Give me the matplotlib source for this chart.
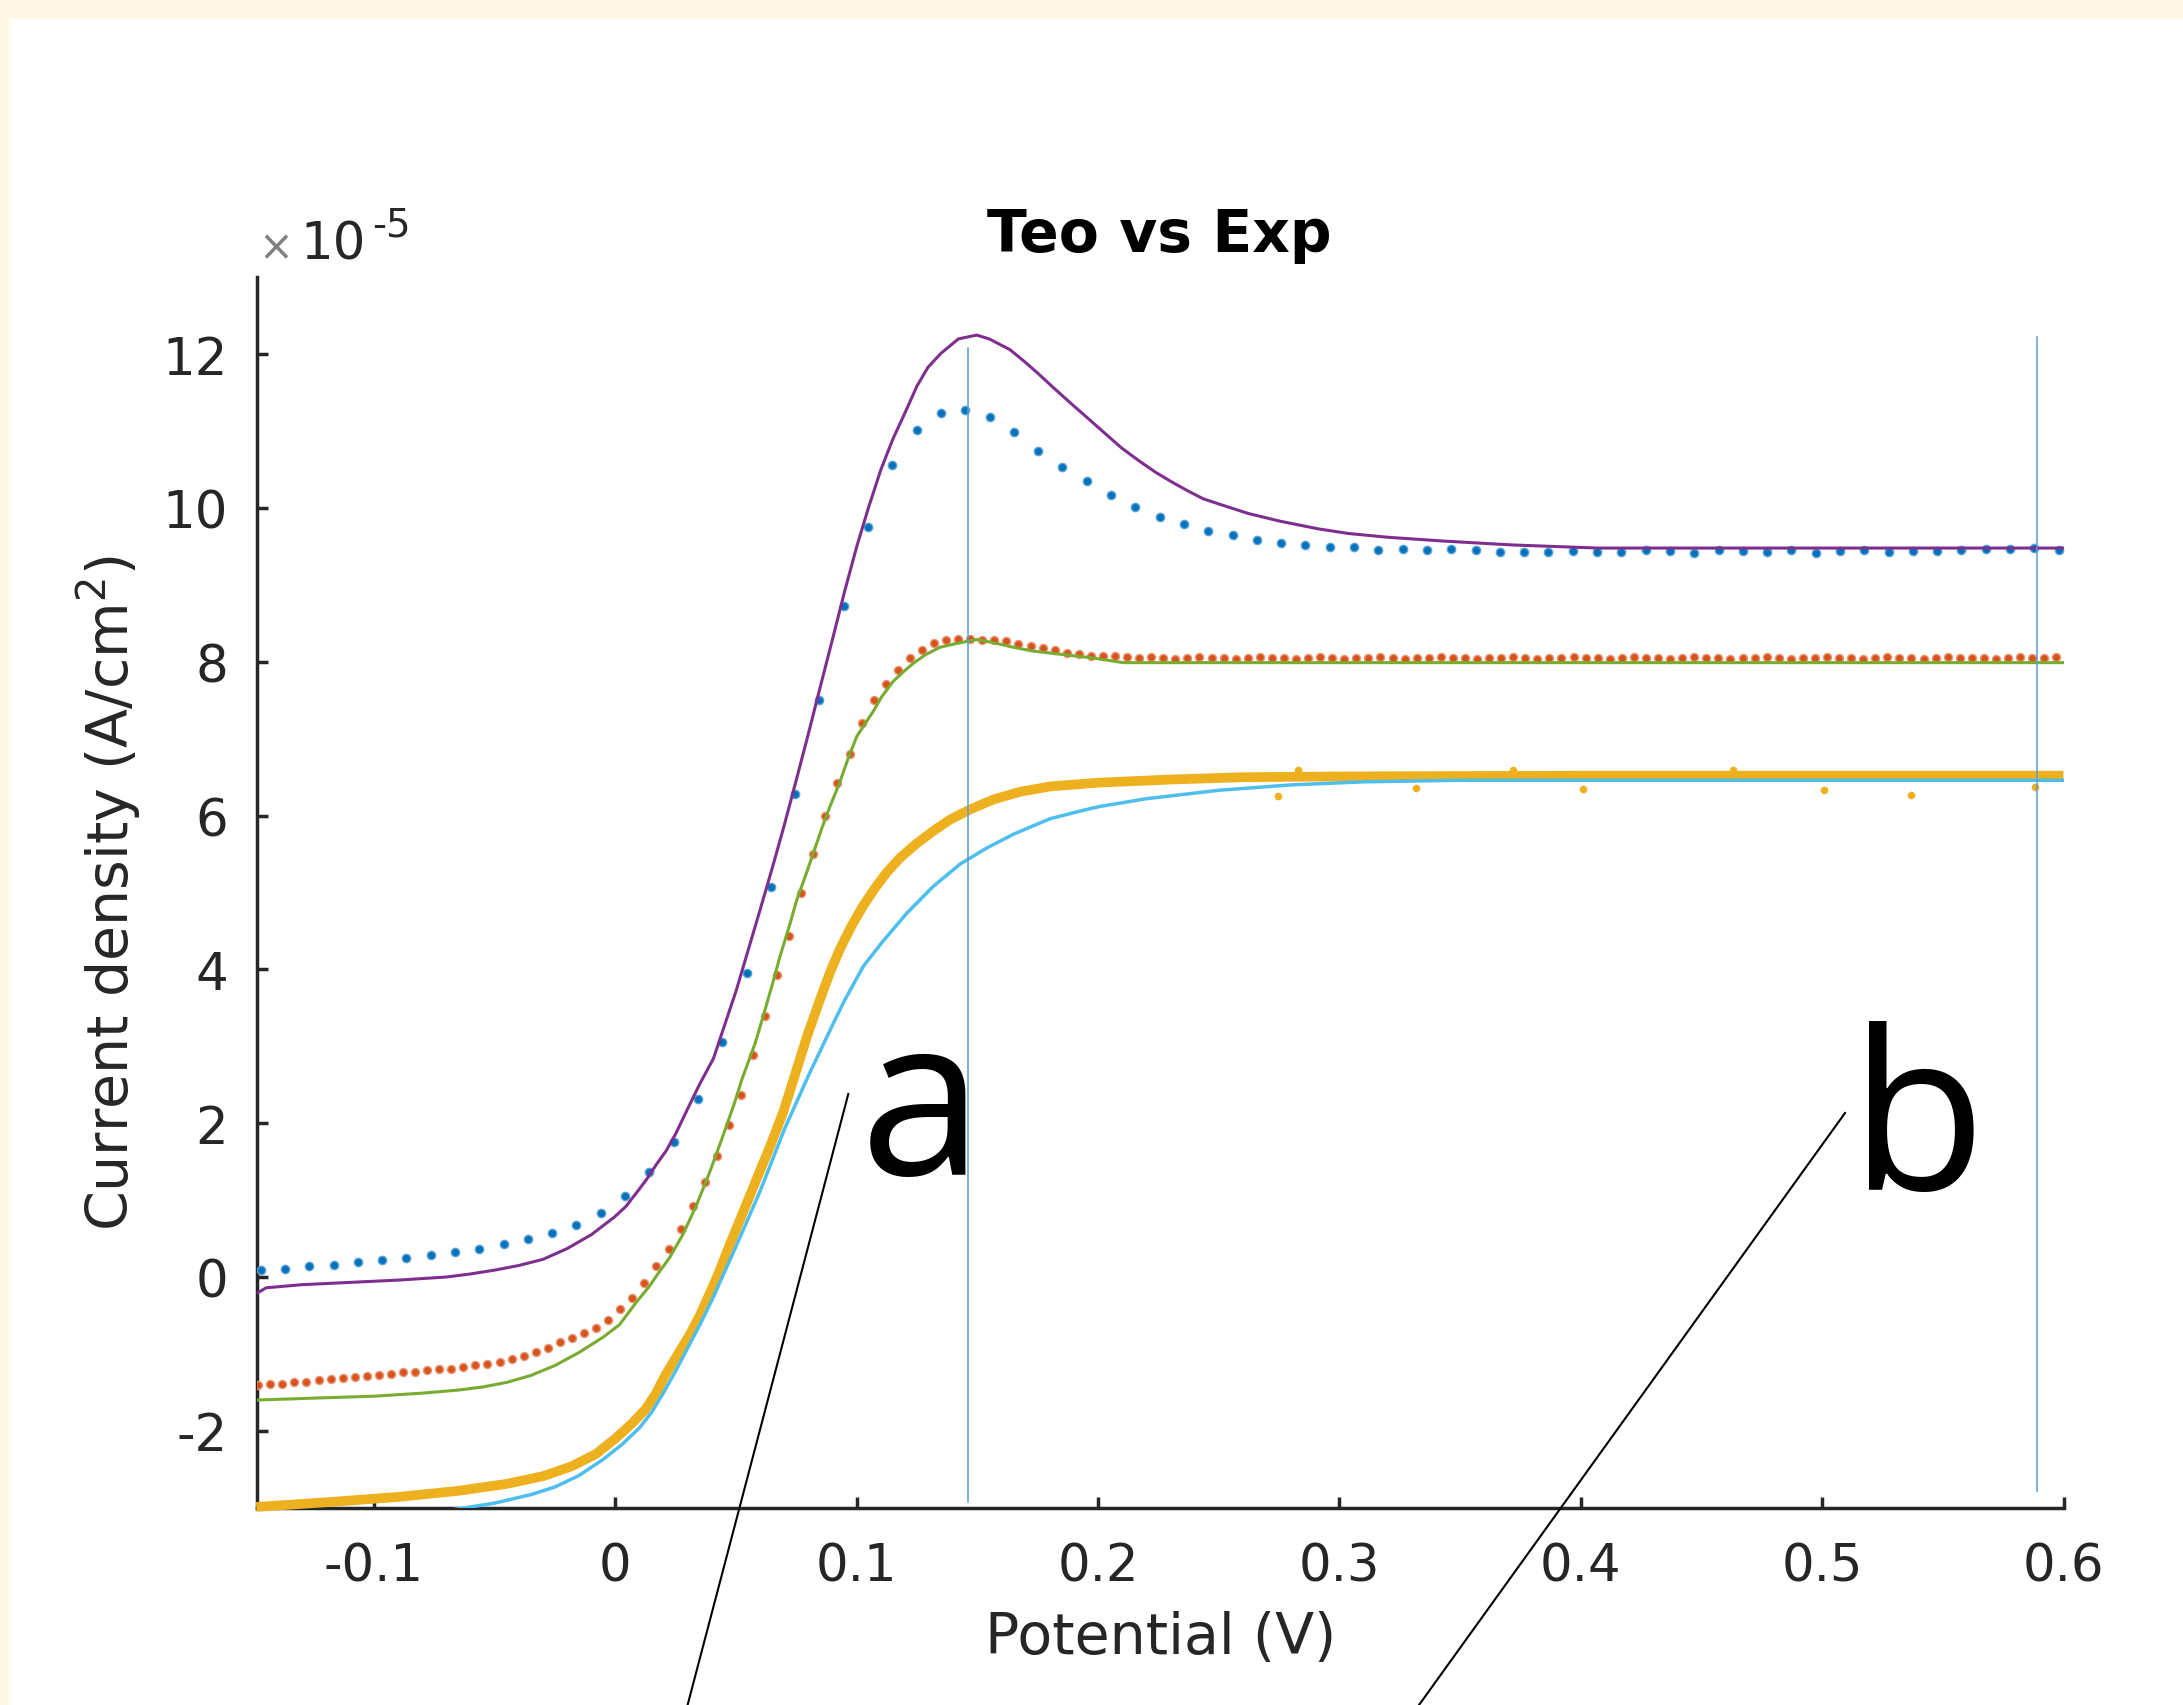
import numpy as np
import matplotlib
matplotlib.use('Agg')
import matplotlib.pyplot as plt
from matplotlib.lines import Line2D
from matplotlib.patches import Rectangle

# ---------------- data (current density in units of 1e-5 A/cm^2) ----------------
blue_x = np.linspace(-0.147, 0.598, 75)
blue_y = [0.09, 0.10, 0.14, 0.15, 0.19, 0.22, 0.25, 0.28, 0.32, 0.37,
          0.43, 0.49, 0.57, 0.68, 0.83, 1.05, 1.36, 1.76, 2.32, 3.06,
          3.96, 5.07, 6.28, 7.51, 8.73, 9.76, 10.56, 11.02, 11.24, 11.27,
          11.18, 10.99, 10.74, 10.54, 10.35, 10.17, 10.02, 9.88, 9.79, 9.70,
          9.65, 9.59, 9.55, 9.52, 9.50, 9.50, 9.45, 9.47, 9.45, 9.47,
          9.45, 9.43, 9.43, 9.43, 9.44, 9.43, 9.43, 9.45, 9.44, 9.42,
          9.45, 9.44, 9.43, 9.45, 9.42, 9.44, 9.45, 9.43, 9.44, 9.44,
          9.45, 9.47, 9.47, 9.48, 9.45]

purple_x = [-0.1485, -0.1447, -0.130, -0.110, -0.090, -0.070, -0.060, -0.050, -0.040, -0.030,
            -0.020, -0.010, -0.0004, 0.0044, 0.0086, 0.0127, 0.0169, 0.0210,
            0.0251, 0.0295, 0.0351, 0.0406, 0.0454, 0.0500, 0.0550, 0.0600, 0.0650,
            0.0700, 0.0750, 0.0800, 0.0850, 0.0900, 0.0950, 0.1000, 0.1050,
            0.1100, 0.1150, 0.1200, 0.1250, 0.1295, 0.1348, 0.1421, 0.1497, 0.1549, 0.1635,
            0.1697, 0.1748, 0.1817, 0.1888, 0.1957, 0.2029, 0.2098, 0.2167, 0.2236, 0.2305,
            0.2374, 0.2436, 0.2533, 0.2622, 0.2753, 0.2912, 0.3036, 0.3202, 0.3437, 0.3720,
            0.4072, 0.50, 0.60]
purple_y = [-0.21, -0.14, -0.10, -0.07, -0.04, 0.00, 0.04, 0.09, 0.15, 0.23,
            0.37, 0.55, 0.78, 0.92, 1.09, 1.26, 1.46, 1.64,
            1.87, 2.16, 2.52, 2.84, 3.29, 3.72, 4.25, 4.78, 5.32,
            5.88, 6.47, 7.07, 7.69, 8.30, 8.92, 9.50, 10.02,
            10.50, 10.90, 11.24, 11.59, 11.83, 12.01, 12.20, 12.25, 12.20, 12.06,
            11.90, 11.76, 11.56, 11.36, 11.17, 10.97, 10.78, 10.62, 10.47, 10.34,
            10.22, 10.12, 10.02, 9.93, 9.83, 9.73, 9.67, 9.62, 9.57, 9.52,
            9.48, 9.48, 9.48]

orange_x = np.linspace(-0.148, 0.597, 150)
orange_y = [-1.40, -1.39, -1.385, -1.37, -1.36, -1.34, -1.325, -1.31, -1.30, -1.285,
            -1.27, -1.255, -1.24, -1.23, -1.215, -1.20, -1.19, -1.17, -1.15, -1.13,
            -1.11, -1.07, -1.03, -0.98, -0.92, -0.85, -0.79, -0.73, -0.66, -0.56,
            -0.42, -0.27, -0.08, 0.14, 0.37, 0.63, 0.93, 1.24, 1.57, 1.98,
            2.37, 2.89, 3.40, 3.93, 4.43, 5.00, 5.50, 6.00, 6.42, 6.80,
            7.20, 7.50, 7.71, 7.90, 8.05, 8.16, 8.24, 8.28, 8.30, 8.30,
            8.29, 8.29, 8.27, 8.23, 8.20, 8.18, 8.15, 8.11, 8.10, 8.08,
            8.07, 8.07, 8.06,
            8.05, 8.06, 8.05, 8.04, 8.05, 8.06, 8.05, 8.05, 8.04, 8.05,
            8.06, 8.05, 8.05, 8.04, 8.05, 8.06, 8.05, 8.04, 8.05, 8.05,
            8.06, 8.05, 8.04, 8.05, 8.05, 8.06, 8.05, 8.05, 8.04, 8.05,
            8.05, 8.06, 8.05, 8.04, 8.05, 8.05, 8.06, 8.05, 8.05, 8.04,
            8.05, 8.06, 8.05, 8.05, 8.04, 8.05, 8.06, 8.05, 8.05, 8.04,
            8.05, 8.05, 8.06, 8.05, 8.04, 8.05, 8.05, 8.06, 8.05, 8.05,
            8.04, 8.05, 8.06, 8.05, 8.05, 8.04, 8.05, 8.06, 8.05, 8.05,
            8.05, 8.04, 8.05, 8.06, 8.05, 8.05, 8.06]

green_x = [-0.1488, -0.120, -0.100, -0.080, -0.065, -0.055, -0.045, -0.035, -0.025, -0.015,
           -0.005, 0.0017, 0.0086, 0.0141, 0.0169, 0.0224, 0.0279,
           0.0334, 0.0389, 0.0445, 0.0493, 0.0524, 0.0579, 0.0613, 0.0648, 0.0682, 0.0724,
           0.0751, 0.0790, 0.0823, 0.0858, 0.0889, 0.0928, 0.0965, 0.1000, 0.1069, 0.1104,
           0.1152, 0.1193, 0.1234, 0.1283, 0.1345, 0.1414, 0.1497, 0.1566, 0.1649, 0.1732,
           0.1842, 0.1980, 0.2104, 0.40, 0.60]
green_y = [-1.60, -1.57, -1.55, -1.51, -1.47, -1.43, -1.37, -1.28, -1.15, -0.98,
           -0.78, -0.62, -0.33, -0.12, 0.01, 0.25, 0.55,
           0.92, 1.35, 1.83, 2.26, 2.57, 3.04, 3.40, 3.78, 4.17, 4.60,
           4.90, 5.24, 5.54, 5.86, 6.12, 6.42, 6.75, 7.03, 7.36, 7.55,
           7.75, 7.87, 7.98, 8.09, 8.19, 8.24, 8.29, 8.25, 8.19, 8.14,
           8.10, 8.05, 7.99, 7.99, 7.99]

yellow_x = [-0.1488, -0.120, -0.090, -0.065, -0.045, -0.030, -0.018, -0.008, 0.000, 0.007,
            0.0125, 0.0165, 0.0210, 0.0260, 0.0310, 0.0350, 0.0390, 0.0425, 0.0475, 0.0530,
            0.0586, 0.0641, 0.0696, 0.0737, 0.0793, 0.0841, 0.0889, 0.0931, 0.0979, 0.1027,
            0.1076, 0.1124, 0.1179, 0.1249, 0.1317, 0.1387, 0.1469, 0.1566, 0.1676, 0.1801,
            0.2008, 0.2300, 0.2600, 0.3000, 0.4000, 0.5000, 0.6000]
yellow_y = [-2.99, -2.93, -2.86, -2.78, -2.69, -2.59, -2.46, -2.30, -2.10, -1.90,
            -1.72, -1.53, -1.26, -1.00, -0.74, -0.50, -0.22, 0.03, 0.43, 0.85,
            1.28, 1.70, 2.15, 2.56, 3.12, 3.55, 3.96, 4.27, 4.57, 4.83,
            5.06, 5.26, 5.45, 5.64, 5.80, 5.95, 6.08, 6.21, 6.31, 6.38,
            6.43, 6.47, 6.50, 6.51, 6.52, 6.52, 6.52]
yellow_out_x = [0.2745, 0.2830, 0.3316, 0.3720, 0.4008, 0.4630, 0.5006, 0.5369, 0.5883]
yellow_out_y = [6.26, 6.59, 6.36, 6.59, 6.35, 6.59, 6.34, 6.27, 6.37]

cyan_x = [-0.1488, -0.120, -0.090, -0.070, -0.050, -0.035, -0.025, -0.015, -0.005, 0.003,
          0.010, 0.015, 0.020, 0.025, 0.030, 0.035, 0.040, 0.045, 0.050, 0.055,
          0.060, 0.065, 0.070, 0.075, 0.080, 0.085, 0.090, 0.095, 0.1027, 0.1104,
          0.1207, 0.1317, 0.1428, 0.1539, 0.1650, 0.1801, 0.1939, 0.2008, 0.2200, 0.2500,
          0.2800, 0.3100, 0.3500, 0.6000]
cyan_y = [-3.40, -3.30, -3.16, -3.04, -2.94, -2.83, -2.73, -2.58, -2.37, -2.17,
          -1.96, -1.76, -1.50, -1.22, -0.92, -0.62, -0.30, 0.05, 0.40, 0.76,
          1.12, 1.52, 1.92, 2.27, 2.62, 2.95, 3.28, 3.60, 4.04, 4.35,
          4.73, 5.08, 5.37, 5.58, 5.76, 5.96, 6.07, 6.12, 6.22, 6.33,
          6.40, 6.44, 6.46, 6.46]

vline_x = [0.146, 0.589]
vline_y0 = [-2.92, -2.78]
vline_y1 = [12.08, 12.22]

x_ticks = [-0.1, 0, 0.1, 0.2, 0.3, 0.4, 0.5, 0.6]
x_labels = ['-0.1', '0', '0.1', '0.2', '0.3', '0.4', '0.5', '0.6']
y_ticks = [-2, 0, 2, 4, 6, 8, 10, 12]
y_labels = ['-2', '0', '2', '4', '6', '8', '10', '12']

# ---------------- figure ----------------
W, H = 2183, 1706
fig = plt.figure(figsize=(W / 100, H / 100), dpi=100)
fig.patch.set_facecolor('#FFF8E6')
fig.add_artist(Rectangle((10 / W, 0), 1 - 10 / W, 1 - 20 / H, transform=fig.transFigure,
                         facecolor='white', edgecolor='none', zorder=-10))


def fx(px):
    return px / W


def fy(py):
    return 1 - py / H


ax_b, ax_t = 1508.7, 278.4
ax_l, ax_r = 257.0, 2063.5
ax = fig.add_axes([fx(ax_l), fy(ax_b), (ax_r - ax_l) / W, (ax_b - ax_t) / H])
ax.set_facecolor('white')
ax.set_xlim(-0.1485, 0.6)
ax.set_ylim(-3, 13)

dark = '#262626'
ax.plot(blue_x, blue_y, 'o', color='#0072BD', ms=6.0, mec='#5DA2D5', mew=1.0, zorder=3)
ax.plot(orange_x, orange_y, 'o', color='#D95319', ms=5.8, mec='#E8967A', mew=1.0, zorder=3)
ax.plot(yellow_x, yellow_y, '-', color='#EDB120', lw=7.0, solid_capstyle='butt',
        solid_joinstyle='round', zorder=3.1, clip_on=False)
ax.plot(yellow_out_x, yellow_out_y, 'o', color='#EDB120', ms=5.5, mec='none', zorder=3.1)
ax.plot(purple_x, purple_y, '-', color='#7E2F8E', lw=2.2, zorder=4)
ax.plot(green_x, green_y, '-', color='#77AC30', lw=2.2, zorder=4)
ax.plot(cyan_x, cyan_y, '-', color='#4DBEEE', lw=2.5, zorder=4)
for vx, v0, v1 in zip(vline_x, vline_y0, vline_y1):
    ax.plot([vx, vx], [v0, v1], '-', color='#5B9BD5', lw=1.1, zorder=5)

for s in ['top', 'right']:
    ax.spines[s].set_visible(False)
for s in ['left', 'bottom']:
    ax.spines[s].set_linewidth(2.5)
    ax.spines[s].set_color(dark)

ax.set_xticks(x_ticks)
ax.set_xticklabels(x_labels)
ax.set_yticks(y_ticks)
ax.set_yticklabels(y_labels)
ax.tick_params(direction='in', length=8, width=2.5, color=dark, labelsize=37,
               labelcolor=dark, top=False, right=False)
ax.tick_params(axis='x', pad=24)
ax.tick_params(axis='y', pad=21)

ax.set_xlabel('Potential (V)', fontsize=41, color=dark)
ax.xaxis.set_label_coords(0.5, -0.1059)
ax.xaxis.label.set_va('center')
ax.set_ylabel('Current density (A/cm$^2$)', fontsize=41, color=dark)
ax.yaxis.set_label_coords(-0.0821, 0.5)
ax.yaxis.label.set_va('center')

ax.text(0.4997, 1.0215, 'Teo vs Exp', transform=ax.transAxes, ha='center', va='baseline',
        fontsize=42, fontweight='bold', color='black')

fig.text(fx(258), fy(260), '\u00d7', fontsize=30, color='#808080', ha='left', va='baseline')
fig.text(fx(300), fy(260), '10', fontsize=37, color=dark, ha='left', va='baseline')
fig.text(fx(372), fy(236.7), '-5', fontsize=28, color=dark, ha='left', va='baseline')

# annotation lines and letters
fig.add_artist(Line2D([fx(848.3), fx(687.6)], [fy(1095), fy(1706)], color='black', lw=1.5,
                      transform=fig.transFigure))
fig.add_artist(Line2D([fx(1845), fx(1419)], [fy(1114), fy(1706)], color='black', lw=1.5,
                      transform=fig.transFigure))
fig.text(fx(921), fy(1175), 'a', fontsize=160, family='Open Sans', ha='center',
         va='baseline', color='black')
fig.text(fx(1918), fy(1190), 'b', fontsize=160, family='Open Sans', ha='center',
         va='baseline', color='black')

fig.savefig('out.png', dpi=100, facecolor=fig.get_facecolor())
